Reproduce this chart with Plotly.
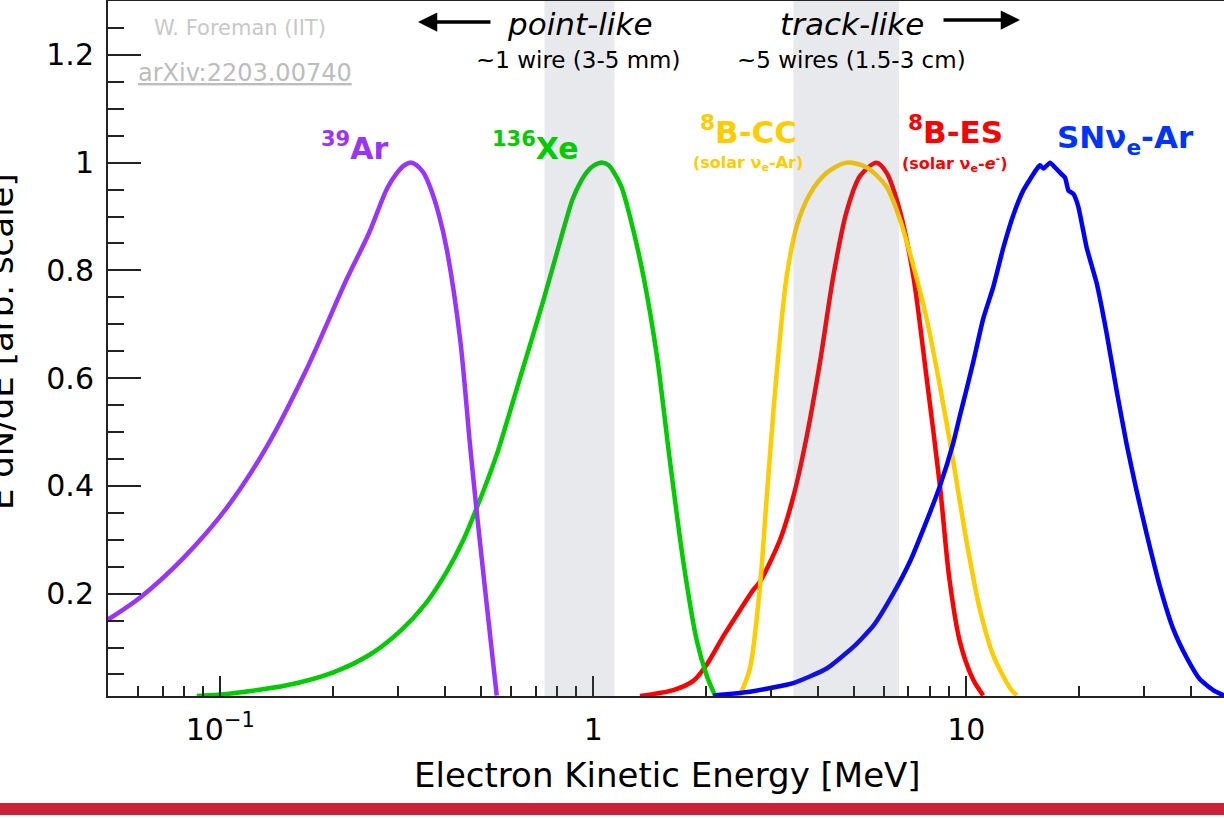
import math
import plotly.graph_objects as go

# ---- canvas geometry (pixels) ----
W, H = 1224, 819
ML, MR, MT, MB = 108, 0, 1, 123
PW = W - ML - MR
PH = H - MT - MB
FONT = "DejaVu Sans"


def px(x):
    return (x - ML) / PW


def py(y):
    return (H - MB - y) / PH


# ---- spectra: electron kinetic energy [MeV] vs normalised E dN/dE ----
ar39_e = [0.050, 0.061, 0.0796, 0.104, 0.133, 0.1705, 0.218, 0.250, 0.280, 0.297,
          0.310, 0.323, 0.335, 0.350, 0.365, 0.385, 0.404, 0.440, 0.467, 0.487,
          0.518, 0.551]
ar39_y = [0.152, 0.193, 0.266, 0.359, 0.472, 0.617, 0.783, 0.868, 0.952, 0.980,
          0.994, 1.000, 0.996, 0.982, 0.955, 0.905, 0.842, 0.670, 0.478, 0.352,
          0.180, 0.011]

xe136_e = [0.0865, 0.100, 0.1507, 0.201, 0.252, 0.303, 0.354, 0.404, 0.448, 0.487,
           0.551, 0.598, 0.636, 0.734, 0.831, 0.880, 0.921, 0.960, 1.000, 1.060,
           1.100, 1.131, 1.190, 1.254, 1.362, 1.479, 1.606, 1.743, 1.893, 2.014,
           2.120]
xe136_y = [0.010, 0.0126, 0.030, 0.054, 0.087, 0.130, 0.180, 0.240, 0.299, 0.359,
           0.458, 0.538, 0.600, 0.743, 0.875, 0.932, 0.962, 0.982, 0.994, 1.000,
           0.995, 0.984, 0.955, 0.900, 0.790, 0.644, 0.445, 0.260, 0.114, 0.048,
           0.011]

b8cc_e = [2.472, 2.630, 2.798, 2.917, 3.040, 3.167, 3.300, 3.510, 3.810, 4.225,
          4.777, 5.410, 6.118, 6.640, 7.210, 7.830, 8.500, 9.230, 10.00, 10.88,
          11.82, 13.10, 13.65]
b8cc_y = [0.011, 0.061, 0.213, 0.378, 0.538, 0.677, 0.789, 0.882, 0.942, 0.981,
          1.000, 0.991, 0.955, 0.895, 0.809, 0.710, 0.585, 0.445, 0.300, 0.170,
          0.085, 0.025, 0.011]

b8es_e = [1.334, 1.638, 1.854, 2.014, 2.232, 2.424, 2.685, 2.798, 3.167, 3.436,
          3.733, 4.054, 4.400, 4.777, 5.188, 5.750, 6.118, 6.640, 7.210, 7.830,
          8.500, 9.000, 9.620, 10.44, 11.10]
b8es_y = [0.010, 0.021, 0.038, 0.068, 0.121, 0.160, 0.207, 0.222, 0.300, 0.379,
          0.491, 0.630, 0.789, 0.909, 0.975, 1.000, 0.981, 0.910, 0.790, 0.600,
          0.400, 0.230, 0.110, 0.040, 0.011]

snar_e = [2.098, 2.630, 3.436, 4.225, 4.980, 5.630, 6.370, 7.070, 7.830, 8.500,
          9.230, 9.620, 10.00, 10.44, 11.10, 11.82, 12.57, 13.36, 14.21, 15.44,
          15.76, 16.10, 16.77, 17.30, 17.86, 18.40, 18.80, 19.37, 19.96, 21.03,
          22.37, 23.79, 25.30, 26.90, 28.60, 30.40, 33.05, 35.90, 39.00, 42.30,
          45.90, 49.10]
snar_y = [0.011, 0.018, 0.034, 0.061, 0.101, 0.140, 0.200, 0.260, 0.335, 0.400,
          0.480, 0.531, 0.577, 0.630, 0.710, 0.770, 0.842, 0.902, 0.948, 0.988,
          0.995, 0.989, 1.000, 0.991, 0.981, 0.972, 0.948, 0.942, 0.919, 0.842,
          0.776, 0.683, 0.577, 0.478, 0.392, 0.313, 0.213, 0.134, 0.081, 0.041,
          0.021, 0.011]

# wire-pitch bands [MeV]
band_point = (0.74, 1.14)
band_track = (3.44, 6.60)

# axis ticks
x_major = [0.1, 1, 10]
x_major_text = ["10<sup>\u22121</sup>", "1", "10"]
x_minor = [0.06, 0.07, 0.08, 0.09, 0.2, 0.3, 0.4, 0.5, 0.6, 0.7, 0.8, 0.9,
           2, 3, 4, 5, 6, 7, 8, 9, 20, 30, 40]
y_major = [0.2, 0.4, 0.6, 0.8, 1.0, 1.2]
y_major_text = ["0.2", "0.4", "0.6", "0.8", "1", "1.2"]
y_minor = [0.05, 0.1, 0.15, 0.25, 0.3, 0.35, 0.45, 0.5, 0.55, 0.65, 0.7, 0.75,
           0.85, 0.9, 0.95, 1.05, 1.1, 1.15, 1.25]

PURPLE, GREEN, GOLD, RED, BLUE = "#9933ff", "#00cc00", "#ffcc00", "#ff0000", "#0000ff"
AXC = "#222222"

fig = go.Figure()
series = [
    (b8es_e, b8es_y, RED, 0.8),
    (b8cc_e, b8cc_y, GOLD, 0.8),
    (xe136_e, xe136_y, GREEN, 0.8),
    (ar39_e, ar39_y, PURPLE, 0.8),
    (snar_e, snar_y, BLUE, 0.5),
]
for xs, ys, col, sm in series:
    fig.add_trace(go.Scatter(x=xs, y=ys, mode="lines",
                             line=dict(color=col, width=4.5, shape="spline", smoothing=sm),
                             showlegend=False, hoverinfo="skip"))

shapes = []
for lo, hi in (band_point, band_track):
    shapes.append(dict(type="rect", xref="x", yref="paper", x0=lo, x1=hi, y0=0, y1=1,
                       fillcolor="rgba(102,108,135,0.15)", line=dict(width=0),
                       layer="above"))
# footer bar
shapes.append(dict(type="rect", xref="paper", yref="paper", x0=px(0), x1=px(W),
                   y0=py(815), y1=py(803), fillcolor="#cd2039", line=dict(width=0)))

ann = []


def label(x, y, s, size, color, **kw):
    d = dict(x=px(x), y=py(y), xref="paper", yref="paper", text=s, showarrow=False,
             font=dict(family=FONT, size=size, color=color),
             xanchor="center", yanchor="middle")
    d.update(kw)
    ann.append(d)


label(240, 28, "W. Foreman (IIT)", 21, "#c8c8c8")
label(245, 73, "<u>arXiv:2203.00740</u>", 24, "#bdbdbd")
label(580, 24, "<i>point-like</i>", 31, "black")
label(578, 60, "~1 wire (3-5 mm)", 23, "black")
label(852, 24, "<i>track-like</i>", 31, "black")
label(851, 60, "~5 wires (1.5-3 cm)", 23, "black")

label(354, 146, "<b><sup>39</sup>Ar</b>", 30, PURPLE)
label(535, 146, "<b><sup>136</sup>Xe</b>", 30, GREEN)
label(748, 130, "<b><sup>8</sup>B-CC</b>", 31, GOLD)
label(748, 163, "<b>(solar \u03bd<sub>e</sub>-Ar)</b>", 16, GOLD)
label(955, 130, "<b><sup>8</sup>B-ES</b>", 31, RED)
label(955, 163, "<b>(solar \u03bd<sub>e</sub>-<i>e</i><sup>-</sup>)</b>", 16, RED)
label(1125, 140, "<b>SN\u03bd<sub>e</sub>-Ar</b>", 31, "#0033ff")

label(667, 775, "Electron Kinetic Energy [MeV]", 34, "black")
label(1, 342, "E dN/dE [arb. scale]", 34, "black", textangle=-90)

# direction arrows
for head, tail, yy in ((418, 492, 22), (1020, 942, 20)):
    ann.append(dict(x=px(head), y=py(yy), xref="paper", yref="paper", text="",
                    showarrow=True, ax=tail - head, ay=0, arrowhead=2, arrowsize=1.1,
                    arrowwidth=3.5, arrowcolor="black", standoff=0, startstandoff=0))

fig.update_layout(
    width=W, height=H,
    margin=dict(l=ML, r=MR, t=MT, b=MB, pad=0),
    paper_bgcolor="white", plot_bgcolor="white",
    shapes=shapes, annotations=ann,
    font=dict(family=FONT, color="black"),
    xaxis=dict(type="log", range=[math.log10(0.05), 1.691],
               tickvals=x_major, ticktext=x_major_text,
               ticks="inside", ticklen=20, tickwidth=2, tickcolor=AXC,
               tickfont=dict(family=FONT, size=30, color="black"),
               showline=True, linewidth=2, linecolor=AXC, mirror=True,
               showgrid=False, zeroline=False, ticklabelstandoff=6,
               minor=dict(tickmode="array", tickvals=x_minor, ticks="inside",
                          ticklen=10, tickwidth=2, tickcolor=AXC, showgrid=False)),
    yaxis=dict(range=[0.01, 1.3],
               tickvals=y_major, ticktext=y_major_text,
               ticks="inside", ticklen=33, tickwidth=2, tickcolor=AXC,
               tickfont=dict(family=FONT, size=30, color="black"),
               showline=True, linewidth=2, linecolor=AXC,
               showgrid=False, zeroline=False, ticklabelstandoff=6,
               minor=dict(tickmode="array", tickvals=y_minor, ticks="inside",
                          ticklen=16, tickwidth=2, tickcolor=AXC, showgrid=False)),
)

fig.write_html("out.html")
